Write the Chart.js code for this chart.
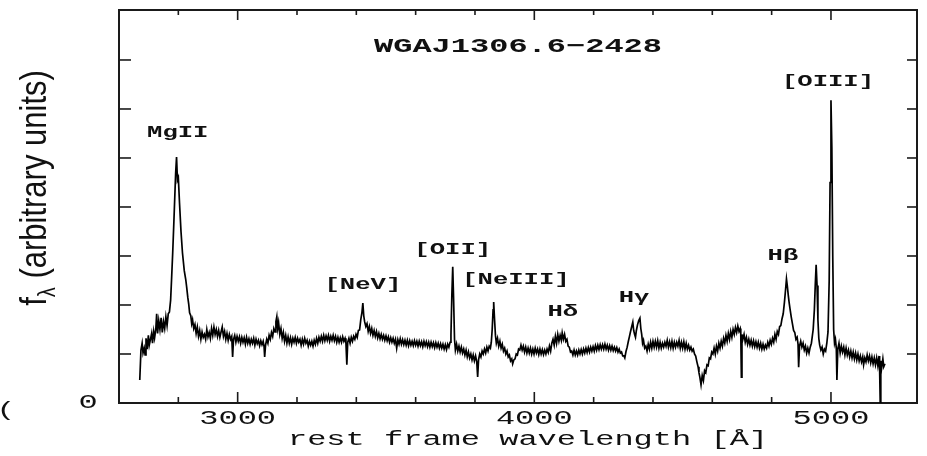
<!DOCTYPE html>
<html>
<head>
<meta charset="utf-8">
<script src="https://cdn.jsdelivr.net/npm/chart.js@4.4.0/dist/chart.umd.min.js"></script>
<style>
html,body{margin:0;padding:0;background:#fff;}
canvas{display:block;}
</style>
</head>
<body>
<canvas id="c" width="927" height="456"></canvas>
<script>
// ---- data ----
const chartTitle = 'WGAJ1306.6\u22122428';
const xAxisTitle = 'rest frame wavelength [\u00C5]';
const xTickLabels = [3000, 4000, 5000];
const yTickLabels = [0];
const xRange = [2600, 5290];
const yRange = [0, 8.02];

// [rest wavelength (A), f_lambda (arbitrary units)]
const spectrum = [
[2670,0.47],[2674,1.08],[2678,1.22],[2681,1.02],[2685,1.12],[2688,0.98],[2691,1.32],[2695,1.10],[2699,1.38],[2702,1.18],
[2706,1.30],[2710,1.42],[2713,1.22],[2717,1.46],[2720,1.33],[2724,1.50],[2727,1.82],[2730,1.42],[2734,1.68],[2738,1.50],
[2742,1.74],[2746,1.44],[2750,1.66],[2754,1.52],[2758,1.76],[2762,1.58],[2766,1.82],[2770,1.86],[2774,2.10],[2777,2.50],
[2781,3.06],[2785,3.70],[2788,4.20],[2791,4.70],[2794,5.02],[2797,4.55],[2800,4.60],[2804,4.08],[2809,3.50],[2814,3.06],
[2820,2.70],[2825,2.52],[2828,2.37],[2832,2.15],[2835,2.02],[2838,1.84],[2842,1.78],[2845,1.62],[2848,1.70],[2852,1.52],
[2856,1.60],[2860,1.42],[2864,1.55],[2868,1.36],[2872,1.48],[2876,1.30],[2880,1.45],[2884,1.34],[2888,1.40],[2892,1.30],
[2896,1.50],[2900,1.35],[2904,1.44],[2908,1.32],[2912,1.52],[2916,1.38],[2920,1.55],[2924,1.40],[2928,1.50],[2932,1.36],
[2936,1.48],[2940,1.34],[2944,1.45],[2948,1.55],[2952,1.36],[2956,1.46],[2960,1.30],[2964,1.42],[2968,1.28],[2972,1.40],
[2976,1.30],[2980,1.36],[2983,0.94],[2986,1.30],[2990,1.38],[2994,1.24],[2998,1.36],[3002,1.26],[3006,1.35],[3010,1.22],
[3014,1.34],[3018,1.24],[3022,1.33],[3026,1.20],[3030,1.34],[3034,1.22],[3038,1.31],[3042,1.20],[3046,1.30],[3050,1.22],
[3054,1.32],[3058,1.18],[3062,1.30],[3066,1.21],[3070,1.28],[3074,1.17],[3078,1.27],[3082,1.19],[3086,1.26],[3089,1.15],
[3091,0.94],[3094,1.18],[3098,1.30],[3102,1.22],[3106,1.38],[3110,1.30],[3114,1.44],[3118,1.36],[3122,1.52],[3126,1.45],
[3129,1.66],[3132,1.76],[3135,1.52],[3138,1.64],[3142,1.40],[3146,1.52],[3150,1.32],[3154,1.44],[3158,1.26],[3162,1.38],
[3166,1.22],[3170,1.35],[3174,1.22],[3178,1.33],[3182,1.20],[3186,1.32],[3190,1.24],[3194,1.34],[3198,1.22],[3202,1.32],
[3206,1.24],[3210,1.30],[3214,1.18],[3218,1.30],[3222,1.20],[3226,1.32],[3230,1.22],[3234,1.28],[3238,1.16],[3242,1.26],
[3246,1.18],[3250,1.26],[3254,1.16],[3258,1.28],[3262,1.20],[3266,1.32],[3270,1.22],[3274,1.34],[3278,1.26],[3282,1.36],
[3286,1.26],[3290,1.38],[3294,1.27],[3298,1.37],[3302,1.28],[3306,1.38],[3310,1.26],[3314,1.36],[3318,1.28],[3322,1.38],
[3326,1.27],[3330,1.36],[3334,1.24],[3338,1.34],[3342,1.24],[3346,1.33],[3350,1.24],[3354,1.35],[3358,1.26],[3362,1.32],
[3365,1.22],[3368,0.78],[3371,1.24],[3375,1.32],[3379,1.22],[3383,1.34],[3387,1.26],[3391,1.36],[3395,1.30],[3399,1.40],
[3403,1.34],[3407,1.48],[3411,1.49],[3415,1.70],[3419,1.85],[3422,2.04],[3425,1.78],[3428,1.66],[3432,1.56],[3436,1.62],
[3440,1.46],[3444,1.56],[3448,1.42],[3452,1.52],[3456,1.38],[3460,1.48],[3464,1.36],[3468,1.46],[3472,1.33],[3476,1.42],
[3480,1.31],[3484,1.40],[3488,1.30],[3492,1.38],[3496,1.28],[3500,1.37],[3504,1.27],[3508,1.35],[3512,1.24],[3516,1.33],
[3520,1.24],[3524,1.32],[3528,1.22],[3532,1.30],[3536,1.12],[3540,1.29],[3544,1.20],[3548,1.31],[3552,1.20],[3556,1.29],
[3560,1.19],[3564,1.28],[3568,1.18],[3572,1.28],[3576,1.17],[3580,1.27],[3584,1.18],[3588,1.26],[3592,1.17],[3596,1.27],
[3600,1.18],[3604,1.26],[3608,1.16],[3612,1.26],[3616,1.17],[3620,1.25],[3624,1.15],[3628,1.26],[3632,1.17],[3636,1.25],
[3640,1.15],[3644,1.24],[3648,1.14],[3652,1.24],[3656,1.15],[3660,1.23],[3664,1.13],[3668,1.23],[3672,1.14],[3676,1.22],
[3680,1.12],[3684,1.21],[3688,1.12],[3692,1.20],[3696,1.10],[3700,1.19],[3704,1.09],[3708,1.20],[3712,1.14],[3716,1.24],
[3719,1.40],[3722,2.20],[3725,2.78],[3728,2.10],[3731,1.30],[3734,1.08],[3738,1.20],[3742,1.06],[3746,1.16],[3750,1.04],
[3754,1.14],[3758,1.02],[3762,1.10],[3766,0.98],[3770,1.08],[3774,0.94],[3778,1.04],[3782,0.92],[3786,1.00],[3790,0.88],
[3794,0.98],[3798,0.86],[3802,0.96],[3806,0.84],[3809,0.53],[3812,0.88],[3816,1.00],[3820,0.94],[3824,1.06],[3828,1.00],
[3832,1.10],[3836,1.02],[3840,1.14],[3844,1.06],[3848,1.16],[3852,1.12],[3855,1.24],[3858,1.50],[3861,1.90],[3863,2.06],
[3866,1.70],[3869,1.38],[3872,1.22],[3876,1.32],[3880,1.16],[3884,1.26],[3888,1.12],[3892,1.20],[3896,1.06],[3900,1.12],
[3904,1.00],[3908,1.06],[3912,0.94],[3916,0.98],[3920,0.86],[3924,0.90],[3927,0.80],[3931,0.88],[3935,0.90],[3939,1.00],
[3943,0.98],[3947,1.10],[3951,1.08],[3955,1.18],[3959,1.08],[3963,1.16],[3967,1.04],[3971,1.14],[3975,1.02],[3979,1.12],
[3983,1.02],[3987,1.12],[3991,1.00],[3995,1.10],[3999,1.00],[4003,1.12],[4007,1.02],[4011,1.10],[4015,0.99],[4019,1.10],
[4023,1.00],[4027,1.09],[4031,0.99],[4035,1.08],[4039,1.00],[4043,1.10],[4047,1.03],[4051,1.16],[4055,1.06],[4059,1.22],
[4063,1.30],[4067,1.18],[4071,1.36],[4075,1.22],[4079,1.40],[4083,1.26],[4087,1.38],[4091,1.28],[4094,1.43],[4098,1.30],
[4102,1.40],[4106,1.26],[4110,1.30],[4114,1.16],[4118,1.14],[4122,1.04],[4126,1.06],[4130,0.98],[4134,1.08],[4138,0.98],
[4142,1.06],[4146,0.98],[4150,1.08],[4154,1.00],[4158,1.09],[4162,1.00],[4166,1.10],[4170,1.02],[4174,1.12],[4178,1.03],
[4182,1.13],[4186,1.04],[4190,1.14],[4194,1.06],[4198,1.15],[4202,1.06],[4206,1.17],[4210,1.08],[4214,1.18],[4218,1.09],
[4222,1.19],[4226,1.10],[4230,1.19],[4234,1.10],[4238,1.20],[4242,1.10],[4246,1.18],[4250,1.08],[4254,1.17],[4258,1.08],
[4262,1.16],[4266,1.07],[4270,1.14],[4274,1.06],[4278,1.13],[4282,1.04],[4286,1.10],[4290,1.02],[4294,1.04],[4298,0.96],
[4302,0.96],[4305,0.92],[4309,1.05],[4313,1.14],[4317,1.26],[4320,1.34],[4324,1.45],[4328,1.55],[4332,1.65],[4335,1.48],
[4338,1.40],[4341,1.34],[4344,1.48],[4348,1.60],[4352,1.68],[4356,1.73],[4359,1.52],[4362,1.40],[4365,1.22],[4368,1.28],
[4372,1.12],[4376,1.16],[4380,1.06],[4384,1.20],[4388,1.10],[4392,1.24],[4396,1.12],[4400,1.26],[4404,1.14],[4408,1.26],
[4412,1.14],[4416,1.27],[4420,1.12],[4424,1.24],[4428,1.12],[4432,1.22],[4436,1.14],[4440,1.24],[4444,1.16],[4448,1.28],
[4452,1.14],[4456,1.25],[4460,1.13],[4464,1.26],[4468,1.12],[4472,1.24],[4476,1.14],[4480,1.24],[4484,1.16],[4488,1.28],
[4492,1.12],[4496,1.24],[4500,1.12],[4504,1.25],[4508,1.10],[4512,1.22],[4516,1.10],[4520,1.18],[4524,1.08],[4528,1.14],
[4532,1.06],[4536,1.10],[4540,1.00],[4544,0.96],[4548,0.84],[4552,0.74],[4555,0.62],[4558,0.53],[4562,0.37],[4566,0.56],
[4570,0.46],[4574,0.66],[4578,0.62],[4582,0.78],[4586,0.76],[4590,0.92],[4594,0.90],[4598,1.04],[4602,1.00],[4606,1.12],
[4610,1.00],[4614,1.16],[4618,1.06],[4622,1.22],[4626,1.12],[4630,1.26],[4634,1.16],[4638,1.32],[4642,1.22],[4646,1.38],
[4650,1.26],[4654,1.42],[4658,1.30],[4662,1.46],[4666,1.34],[4670,1.50],[4674,1.40],[4678,1.54],[4682,1.44],[4686,1.57],
[4690,1.46],[4694,1.52],[4696,1.40],[4698,0.53],[4700,1.40],[4703,1.30],[4707,1.40],[4711,1.24],[4715,1.34],[4719,1.20],
[4723,1.30],[4727,1.18],[4731,1.28],[4735,1.16],[4739,1.27],[4743,1.15],[4747,1.25],[4751,1.14],[4755,1.24],[4759,1.12],
[4763,1.22],[4767,1.10],[4771,1.20],[4775,1.10],[4779,1.18],[4783,1.12],[4787,1.24],[4791,1.16],[4795,1.28],[4799,1.20],
[4803,1.32],[4807,1.24],[4811,1.40],[4815,1.30],[4819,1.46],[4823,1.40],[4827,1.56],[4831,1.58],[4835,1.72],[4839,1.82],
[4843,2.05],[4846,2.25],[4850,2.53],[4853,2.38],[4856,2.20],[4859,2.05],[4862,1.92],[4866,1.76],[4870,1.62],[4874,1.48],
[4878,1.44],[4882,1.30],[4886,1.34],[4889,1.20],[4891,0.73],[4894,1.16],[4898,1.26],[4902,1.14],[4906,1.22],[4910,1.08],
[4914,1.16],[4918,1.02],[4922,1.12],[4926,1.02],[4930,1.14],[4934,1.22],[4937,1.36],[4940,1.50],[4944,1.90],[4947,2.40],
[4950,2.82],[4953,2.40],[4956,1.70],[4959,1.32],[4962,1.18],[4966,1.08],[4970,1.14],[4974,1.00],[4978,1.10],[4982,1.06],
[4986,1.22],[4990,1.45],[4994,2.50],[4997,4.50],[5000,6.18],[5003,5.20],[5006,3.00],[5009,1.50],[5012,1.22],[5015,1.30],
[5018,1.12],[5020,0.47],[5023,1.10],[5027,1.22],[5031,1.02],[5035,1.16],[5039,1.04],[5043,1.14],[5047,0.98],[5051,1.12],
[5055,0.98],[5059,1.08],[5063,0.94],[5067,1.06],[5071,0.92],[5075,1.04],[5079,0.90],[5083,1.02],[5087,0.88],[5091,1.00],
[5095,0.86],[5099,0.96],[5103,0.84],[5107,0.94],[5110,0.78],[5114,0.92],[5118,0.84],[5122,0.98],[5126,0.86],[5130,0.96],
[5134,0.82],[5138,0.94],[5142,0.80],[5146,0.92],[5150,0.78],[5154,0.92],[5158,0.76],[5162,0.96],[5164,0.70],[5166,0.00],
[5168,0.86],[5171,0.72],[5175,0.90],[5178,0.74],[5182,0.80]
];

// emission line labels: text, anchor wavelength, anchor flux
const lineNames = ['MgII', '[NeV]', '[OII]', '[NeIII]', 'H\u03B4', 'H\u03B3', 'H\u03B2', '[OIII]'];
const lineWave  = [2798, 3422, 3725, 3938, 4096, 4336, 4838, 4990];
const lineFlux  = [5.51, 2.41, 3.12, 2.51, 1.86, 2.14, 3.00, 6.55];

// ---- drawing helpers ----
const SX = 1.6; // horizontal stretch of the original figure's lettering
function sText(ctx, text, x, y, font, sx) {
  ctx.save();
  ctx.font = font;
  ctx.textAlign = 'center';
  ctx.textBaseline = 'middle';
  ctx.translate(x, y);
  ctx.scale(sx, 1);
  ctx.fillText(text, 0, 0);
  ctx.restore();
}
function seg(ctx, x1, y1, x2, y2) {
  ctx.beginPath(); ctx.moveTo(x1, y1); ctx.lineTo(x2, y2); ctx.stroke();
}

const framePlugin = {
  id: 'frame',
  beforeDatasetsDraw(chart) {
    const {ctx, chartArea: a, scales: {x, y}} = chart;
    ctx.save();
    ctx.strokeStyle = '#1a1a1a';
    ctx.lineWidth = 2;
    ctx.beginPath();
    ctx.moveTo(a.left, a.top); ctx.lineTo(a.right, a.top); ctx.lineTo(a.right, a.bottom);
    ctx.stroke();
    ctx.lineWidth = 1.6;
    x.ticks.forEach(t => {
      const px = x.getPixelForValue(t.value);
      if (px <= a.left + 1 || px >= a.right - 1) return;
      const major = t.value % 1000 === 0;
      seg(ctx, px, a.bottom, px, a.bottom - (major ? 11 : 6));
      seg(ctx, px, a.top, px, a.top + (major ? 10 : 5));
    });
    y.ticks.forEach(t => {
      if (!Number.isInteger(t.value) || t.value === 0) return;
      const py = y.getPixelForValue(t.value);
      if (py <= a.top + 2) return;
      seg(ctx, a.left, py, a.left + 12, py);
      seg(ctx, a.right, py, a.right - 10, py);
    });
    ctx.restore();
  },
  afterDraw(chart) {
    const {ctx, chartArea: a, scales: {x, y}} = chart;
    ctx.save();
    ctx.fillStyle = '#111';
    sText(ctx, chartTitle, (a.left + a.right) / 2, 47, 'bold 20px "Liberation Mono"', SX);
    lineNames.forEach((n, i) => {
      sText(ctx, n, x.getPixelForValue(lineWave[i]), y.getPixelForValue(lineFlux[i]), 'bold 16px "Liberation Mono"', SX);
    });
    xTickLabels.forEach(v => {
      sText(ctx, String(v), x.getPixelForValue(v), 419, '20px "Liberation Mono"', SX);
    });
    yTickLabels.forEach(v => {
      sText(ctx, String(v), 88, y.getPixelForValue(v), '20px "Liberation Mono"', SX);
    });
    sText(ctx, xAxisTitle, 528, 440, '20px "Liberation Mono"', SX);
    sText(ctx, '(', 5, 410, '20px "Liberation Sans"', SX);
    // y axis title: f_lambda (arbitrary units)
    ctx.save();
    ctx.translate(36, 188);
    ctx.scale(1.2, 1);
    ctx.rotate(-Math.PI / 2);
    ctx.textBaseline = 'middle';
    ctx.textAlign = 'left';
    const big = '31px "Liberation Sans"', small = '20px "Liberation Sans"';
    ctx.font = big; const wf = ctx.measureText('f').width;
    ctx.font = small; const wl = ctx.measureText('\u03BB').width;
    ctx.font = big; const wr = ctx.measureText(' (arbitrary units)').width;
    let sx = -(wf + wl + wr) / 2;
    ctx.font = big; ctx.fillText('f', sx, 0); sx += wf;
    ctx.font = small; ctx.fillText('\u03BB', sx, 10); sx += wl;
    ctx.font = big; ctx.fillText(' (arbitrary units)', sx, 0);
    ctx.restore();
    ctx.restore();
  }
};

new Chart(document.getElementById('c'), {
  type: 'line',
  data: {
    datasets: [{
      data: spectrum.map(p => ({x: p[0], y: p[1]})),
      borderColor: '#000',
      borderWidth: 1.7,
      pointRadius: 0,
      tension: 0,
      fill: false
    }]
  },
  options: {
    responsive: false,
    devicePixelRatio: 1,
    animation: false,
    layout: {padding: {left: 119, right: 10, top: 10, bottom: 53}},
    plugins: {legend: {display: false}, tooltip: {enabled: false}, title: {display: false}},
    scales: {
      x: {
        type: 'linear', min: xRange[0], max: xRange[1],
        ticks: {display: false, stepSize: 200},
        grid: {display: false, drawTicks: false},
        border: {display: true, color: '#1a1a1a', width: 2},
        afterFit: s => { s.height = 0; }
      },
      y: {
        type: 'linear', min: yRange[0], max: yRange[1],
        ticks: {display: false, stepSize: 1},
        grid: {display: false, drawTicks: false},
        border: {display: true, color: '#1a1a1a', width: 2},
        afterFit: s => { s.width = 0; }
      }
    }
  },
  plugins: [framePlugin]
});
</script>
</body>
</html>
